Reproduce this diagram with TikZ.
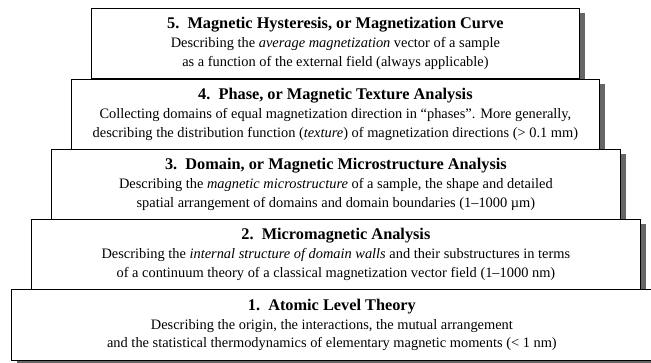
\documentclass[tikz,border=0pt]{standalone}
\usepackage{fontspec}
\setmainfont{Liberation Serif}
\usetikzlibrary{shadows}
\tikzset{
  layerbox/.style={draw=black, line width=0.8pt, fill=white, anchor=north west,
    minimum height=70pt, inner sep=0pt, align=center,
    drop shadow={shadow xshift=6pt, shadow yshift=-5pt, fill=black!60, opacity=1}},
}
\newcommand{\bt}[1]{{\fontsize{16.3}{21}\selectfont\bfseries #1}\\[0pt]}
\begin{document}
\begin{tikzpicture}[x=1pt,y=1pt, font=\fontsize{14.4}{19}\selectfont]
\useasboundingbox (0,0) rectangle (651,-363);
\begin{scope}
\clip (0,0) rectangle (651,-363);
\node[layerbox, minimum width=488pt] (b5) at (91,-8)
  {\bt{5.\ \ Magnetic Hysteresis, or Magnetization Curve}
   Describing the \textit{average magnetization} vector of a sample\\
   as a function of the external field (always applicable)};
\node[layerbox, minimum width=528pt] (b4) at (71,-79)
  {\bt{4.\ \ Phase, or Magnetic Texture Analysis}
   Collecting domains of equal magnetization direction in ``phases''. More generally,\\
   describing the distribution function (\textit{texture}) of magnetization directions (> 0.1 mm)};
\node[layerbox, minimum width=569pt] (b3) at (51,-149)
  {\bt{3.\ \ Domain, or Magnetic Microstructure Analysis}
   Describing the \textit{magnetic microstructure} of a sample, the shape and detailed\\
   spatial arrangement of domains and domain boundaries (1--1000 µm)};
\node[layerbox, minimum width=609pt] (b2) at (31,-219)
  {\bt{2.\ \ Micromagnetic Analysis}
   Describing the \textit{internal structure of domain walls} and their substructures in terms\\
   of a continuum theory of a classical magnetization vector field (1--1000 nm)};
\node[layerbox, minimum width=641pt, minimum height=71pt] (b1) at (11,-289)
  {\bt{1.\ \ Atomic Level Theory}
   Describing the origin, the interactions, the mutual arrangement\\
   and the statistical thermodynamics of elementary magnetic moments (< 1 nm)};
\end{scope}
\end{tikzpicture}
\end{document}
